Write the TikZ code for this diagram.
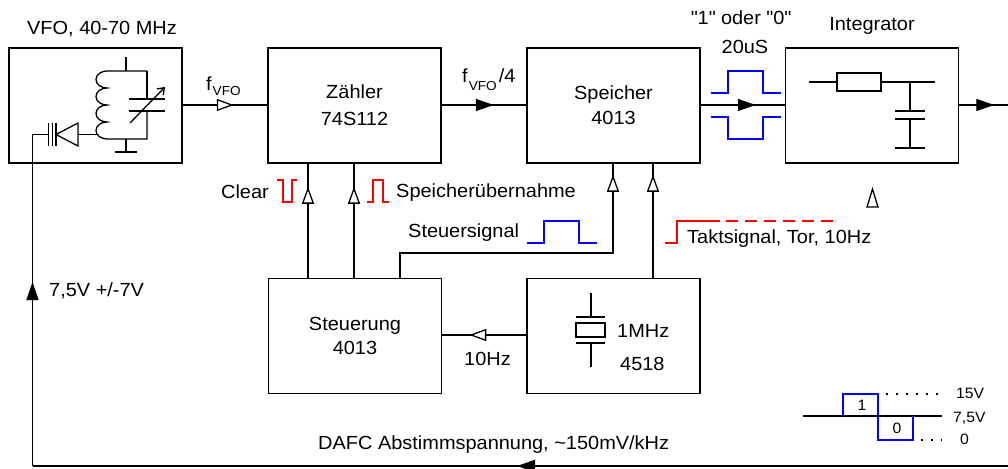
\documentclass[tikz,border=0pt]{standalone}
\usepackage{fontspec}
\setmainfont{Liberation Sans}[FakeStretch=1.05]
\usetikzlibrary{arrows.meta,decorations.markings}
\tikzset{
  box/.style={draw, line width=1.5pt, minimum width=173pt, minimum height=115pt, inner sep=0pt, align=center, font=\fontsize{19}{25}\selectfont},
  lbl/.style={inner sep=0pt, font=\fontsize{19}{23}\selectfont},
  smalllbl/.style={inner sep=0pt, font=\fontsize{15}{17}\selectfont},
  wire/.style={line width=1.4pt},
  part/.style={line width=1.3pt},
  oarrowat/.style={postaction={decorate}, decoration={markings, mark=at position #1 with {\arrow[line width=1.3pt]{Triangle[length=17pt,width=12pt,fill=white]}}}},
  farrowat/.style={postaction={decorate}, decoration={markings, mark=at position #1 with {\arrow{Triangle[length=18pt,width=12pt]}}}},
  redsig/.style={draw=red, line width=1.5pt},
  bluesig/.style={draw=blue, line width=1.5pt},
  coilturn/.style={},
}
\newcommand{\subvfo}[1]{\raisebox{#1}{\fontsize{13}{13}\selectfont VFO}}
\begin{document}
\begin{tikzpicture}[x=1pt,y=-1pt]
\useasboundingbox (0,0) rectangle (1008,468);
% ---------- boxes ----------
\node[box] (vfo) at (95.5,105.5) {};
\node[box] (zaehler) at (354.5,105.5) {Zähler\\[2pt]74S112};
\node[box] (speicher) at (613.5,105.5) {Speicher\\4013};
\node[box] (integ) at (872,105.5) {};
\node[box] (steuer) at (355,336) {Steuerung\\[-1pt]4013};
\node[box] (osc) at (613.5,336) {};
% ---------- titles / labels ----------
\node[lbl, anchor=base] (tvfo) at (102,35) {VFO, 40-70 MHz};
\node[lbl, anchor=base] (tint) at (872,31) {Integrator};
\node[lbl, anchor=base] (tbit) at (741,25) {\textquotedbl1\textquotedbl{} oder \textquotedbl0\textquotedbl};
\node[lbl, anchor=base] (tdur) at (745,54) {20uS};
\node[lbl, anchor=base west] (tf1) at (206,91) {f\hspace{1pt}\subvfo{-5pt}};
\node[lbl, anchor=base west] (tf2) at (462,83) {f\hspace{1pt}\subvfo{-8pt}\hspace{2pt}/4};
\node[lbl, anchor=base east] (tclr) at (269,198) {Clear};
\node[lbl, anchor=base west] (tspu) at (396,197) {Speicherübernahme};
\node[lbl, anchor=base west] (tsts) at (408,237) {Steuersignal};
\node[lbl, anchor=base west] (ttak) at (687,243) {Taktsignal, Tor, 10Hz};
\node[lbl, anchor=base west] (tvolt) at (49,296) {7,5V +/-7V};
\node[lbl, anchor=base west] (t10hz) at (464,365) {10Hz};
\node[lbl, anchor=base west] (tdafc) at (318,449) {DAFC Abstimmspannung, \textasciitilde150mV/kHz};
\node[lbl, anchor=base west] (t1mhz) at (617,337) {1MHz};
\node[lbl, anchor=base west] (t4518) at (620,370) {4518};
% ---------- connectors ----------
\draw[wire, oarrowat=51pt] (vfo.east |- 0,105) coordinate (vfoout) -- (zaehler.west |- 0,105) coordinate (zin);
\draw[wire, farrowat=52pt] (zaehler.east |- 0,105) coordinate (zout) -- (speicher.west |- 0,105) coordinate (sin);
\draw[wire, farrowat=55pt] (speicher.east |- 0,105) coordinate (sout) -- (integ.west |- 0,105) coordinate (iin);
\coordinate (outend) at (1010,105);
\draw[wire, farrowat=35pt] (integ.east |- 0,105) coordinate (iout) -- (outend);
% Steuerung -> Zaehler
\draw[wire, oarrowat=91pt] (steuer.north -| 308,0) coordinate (s1) -- (zaehler.south -| 308,0) coordinate (z1);
\draw[wire, oarrowat=91pt] (steuer.north -| 354,0) coordinate (s2) -- (zaehler.south -| 354,0) coordinate (z2);
% Steuerung -> Speicher
\coordinate (bend1) at (400,253);
\coordinate (bend2) at (613,253);
\draw[wire, oarrowat=316pt] (steuer.north -| 400,0) coordinate (s3) -- (bend1) -- (bend2) -- (speicher.south -| 613,0) coordinate (sp1);
% 4518 -> Speicher
\draw[wire, oarrowat=103pt] (osc.north -| 653,0) coordinate (o1) -- (speicher.south -| 653,0) coordinate (sp2);
% 4518 -> Steuerung
\draw[wire, oarrowat=57pt] (osc.west |- 0,335) coordinate (o2) -- (steuer.east |- 0,335) coordinate (s4);
% feedback
\coordinate (fbstart) at (1010,466);
\coordinate (fbcorner) at (32.5,466);
\coordinate (fbin) at (32.5,134.5);
\coordinate (vcap) at (48.3,134.5);
\draw[line width=2pt, farrowat=493pt] (fbstart) -- (fbcorner);
\draw[wire, farrowat=184pt] (fbcorner) -- (fbin) -- (vcap);
% ---------- VFO internals ----------
\draw[part] (126,57) -- (126,71);
\draw[part] (147,71) -- (107,71)
  arc[start angle=90, end angle=270, x radius=11pt, y radius=8.5pt]
  arc[start angle=90, end angle=270, x radius=11pt, y radius=8.5pt]
  arc[start angle=90, end angle=270, x radius=11pt, y radius=8.5pt]
  arc[start angle=90, end angle=270, x radius=11pt, y radius=8.5pt]
  -- (147,139) -- (147,111);
\draw[part] (147,71) -- (147,99);
\draw[part] (129,99) -- (165,99);
\draw[part] (129,111) -- (165,111);
\draw[part, -{Straight Barb[length=6pt,width=9pt]}] (130,123) -- (165,87);
\draw[part] (126,139) -- (126,152);
\draw[part] (115,152) -- (137,152);
% diode and varactor
\draw[part] (96.5,134.5) -- (78,134.5);
\draw[part] (78,123) -- (78,146) -- (56,134.5) -- cycle;
\draw[part] (56,123) -- (56,146);
\draw[part] (52.7,123) -- (52.7,146);
\draw[part] (48.3,123) -- (48.3,146);
% ---------- Integrator internals ----------
\draw[part] (809,82) -- (935,82);
\draw[part, fill=white] (837,73) rectangle (881,91);
\draw[part] (910,82) -- (910,111);
\draw[part] (895,111) -- (925,111);
\draw[part] (895,119) -- (925,119);
\draw[part] (910,119) -- (910,148);
\draw[part] (895,148) -- (925,148);
% ---------- crystal ----------
\draw[part] (591,293) -- (591,317);
\draw[part] (576,317) -- (605,317);
\draw[part] (576,323) rectangle (605,337);
\draw[part] (576,343) -- (605,343);
\draw[part] (591,343) -- (591,367);
% ---------- signals ----------
\draw[redsig] (277,180) -- (283,180) -- (283,202) -- (292,202) -- (292,180) -- (297,180);
\draw[redsig] (367,202) -- (373,202) -- (373,180) -- (383,180) -- (383,202) -- (389,202);
\draw[bluesig] (527,243) -- (544,243) -- (544,221) -- (579,221) -- (579,243) -- (597,243);
\draw[bluesig] (711,93) -- (728,93) -- (728,71) -- (763,71) -- (763,93) -- (781,93);
\draw[bluesig] (711,117) -- (728,117) -- (728,139) -- (763,139) -- (763,117) -- (781,117);
\draw[redsig] (665,243) -- (677,243) -- (677,221) -- (720,221);
\draw[redsig, dash pattern=on 12pt off 7pt] (726,221) -- (837,221);
% lone marker
\draw[part] (867,207) -- (878,207) -- (872.5,189) -- cycle;
% ---------- level diagram ----------
\draw[part] (803,416) -- (942,416);
\draw[bluesig] (843,416) -- (843,394) -- (878,394) -- (878,440) -- (913,440) -- (913,416);
\draw[line width=1.5pt, dash pattern=on 1.5pt off 8.5pt] (886,394) -- (942,394);
\draw[line width=1.5pt, dash pattern=on 1.5pt off 8.5pt] (921,440) -- (942,440);
\node[smalllbl, anchor=base west] (t15) at (956,398) {15V};
\node[smalllbl, anchor=base west] (t75) at (953,422) {7,5V};
\node[smalllbl, anchor=base west] (t0) at (960,444) {0};
\node[smalllbl, anchor=base] (tone) at (862,410) {1};
\node[smalllbl, anchor=base] (tzero) at (897,433) {0};
\end{tikzpicture}
\end{document}
